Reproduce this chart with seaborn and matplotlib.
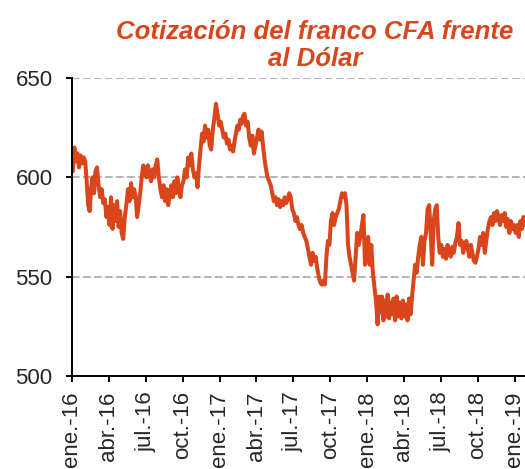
import pandas as pd
import numpy as np
import seaborn as sns
import matplotlib.pyplot as plt

# cotizacion FCFA por USD: 8 lecturas por mes
vals_2016 = [[603, 615, 608, 612, 605, 611, 607, 610],
             [608, 598, 586, 583, 594, 600, 592, 603],
             [605, 596, 590, 594, 587, 589, 580, 585],
             [576, 590, 574, 586, 578, 588, 575, 583],
             [572, 569, 580, 586, 594, 588, 597, 590],
             [594, 590, 580, 586, 592, 600, 606, 604],
             [600, 606, 602, 598, 604, 600, 606, 609],
             [600, 594, 590, 596, 588, 594, 586, 592],
             [596, 590, 598, 592, 600, 594, 590, 596],
             [598, 604, 600, 610, 606, 612, 604, 600],
             [602, 595, 606, 614, 622, 618, 626, 620],
             [624, 616, 614, 624, 630, 637, 632, 626]]
vals_2017 = [[628, 624, 620, 622, 617, 619, 614, 616],
             [613, 618, 622, 626, 624, 629, 627, 631],
             [632, 626, 628, 620, 616, 621, 612, 616],
             [620, 624, 619, 623, 616, 609, 604, 600],
             [598, 596, 592, 588, 590, 586, 589, 585],
             [588, 586, 590, 587, 589, 592, 590, 584],
             [582, 578, 580, 576, 574, 576, 572, 570],
             [568, 564, 560, 556, 562, 558, 560, 554],
             [550, 547, 546, 548, 546, 560, 568, 566],
             [578, 582, 576, 580, 582, 584, 588, 592],
             [590, 592, 586, 566, 560, 556, 552, 548],
             [560, 572, 566, 570, 576, 581, 556, 562]]
vals_2018 = [[570, 556, 566, 552, 545, 538, 526, 540],
             [532, 540, 528, 538, 530, 541, 529, 537],
             [531, 539, 528, 540, 530, 537, 529, 538],
             [530, 536, 528, 539, 531, 540, 548, 556],
             [552, 560, 566, 570, 556, 568, 572, 584],
             [586, 572, 556, 578, 584, 586, 570, 562],
             [566, 560, 564, 559, 566, 562, 560, 565],
             [562, 567, 570, 577, 566, 568, 562, 566],
             [568, 564, 560, 566, 562, 558, 557, 560],
             [564, 570, 566, 572, 562, 568, 574, 578],
             [580, 576, 582, 578, 583, 580, 576, 581],
             [578, 582, 575, 579, 572, 578, 574, 576]]
vals_2019 = [[572, 576, 570, 578, 574, 580, 576, 578]]

tick_fechas = pd.to_datetime(["2016-01-01", "2016-04-01", "2016-07-01", "2016-10-01",
                              "2017-01-01", "2017-04-01", "2017-07-01", "2017-10-01",
                              "2018-01-01", "2018-04-01", "2018-07-01", "2018-10-01",
                              "2019-01-01"])
tick_labels = ["ene.-16", "abr.-16", "jul.-16", "oct.-16",
               "ene.-17", "abr.-17", "jul.-17", "oct.-17",
               "ene.-18", "abr.-18", "jul.-18", "oct.-18",
               "ene.-19"]

fechas = []
valores = []
for anio, meses in [(2016, vals_2016), (2017, vals_2017), (2018, vals_2018), (2019, vals_2019)]:
    for m, vals in enumerate(meses):
        ini = pd.Timestamp(anio, m + 1, 1)
        dias = ini.days_in_month
        for k, v in enumerate(vals):
            fechas.append(ini + pd.Timedelta(days=(k + 0.5) * dias / len(vals)))
            valores.append(v)
df = pd.DataFrame({"fecha": fechas, "valor": valores})

sns.set_style("white")
plt.rcParams['font.family'] = ['Liberation Sans', 'DejaVu Sans']

naranja = "#D9461C"
fig = plt.figure(figsize=(5.25, 4.69), dpi=100)
ax = fig.add_axes([0.1371, 0.1983, 0.889, 0.6354])

sns.lineplot(data=df, x="fecha", y="valor", color=naranja, linewidth=2.9, ax=ax)

ax.set_ylim(500, 650)
ax.set_yticks([500, 550, 600, 650])
ax.set_xlim(pd.Timestamp("2016-01-01"), pd.Timestamp("2019-03-01"))
ax.set_xticks(tick_fechas)
ax.set_xticklabels(tick_labels, rotation=90)
ax.set_xlabel("")
ax.set_ylabel("")

for y in [550, 600, 650]:
    ax.axhline(y, color="#A0A0A0", linewidth=1.1, linestyle=(0, (5, 2.2)), zorder=0)

for s in ["top", "right"]:
    ax.spines[s].set_visible(False)
for s in ["left", "bottom"]:
    ax.spines[s].set_color("black")
    ax.spines[s].set_linewidth(1.4)

ax.tick_params(axis="y", direction="out", length=4, width=1.4, color="black",
               labelsize=16, pad=10, left=True)
ax.tick_params(axis="x", direction="out", length=4, width=1.4, color="black",
               labelsize=16, pad=7, bottom=True)

fig.text(0.6, 0.958, "Cotización del franco CFA frente\nal Dólar", ha="center", va="top",
         fontsize=18.5, fontweight="bold", fontstyle="italic", color=naranja,
         linespacing=1.2)

fig.savefig("out.png", dpi=100)
